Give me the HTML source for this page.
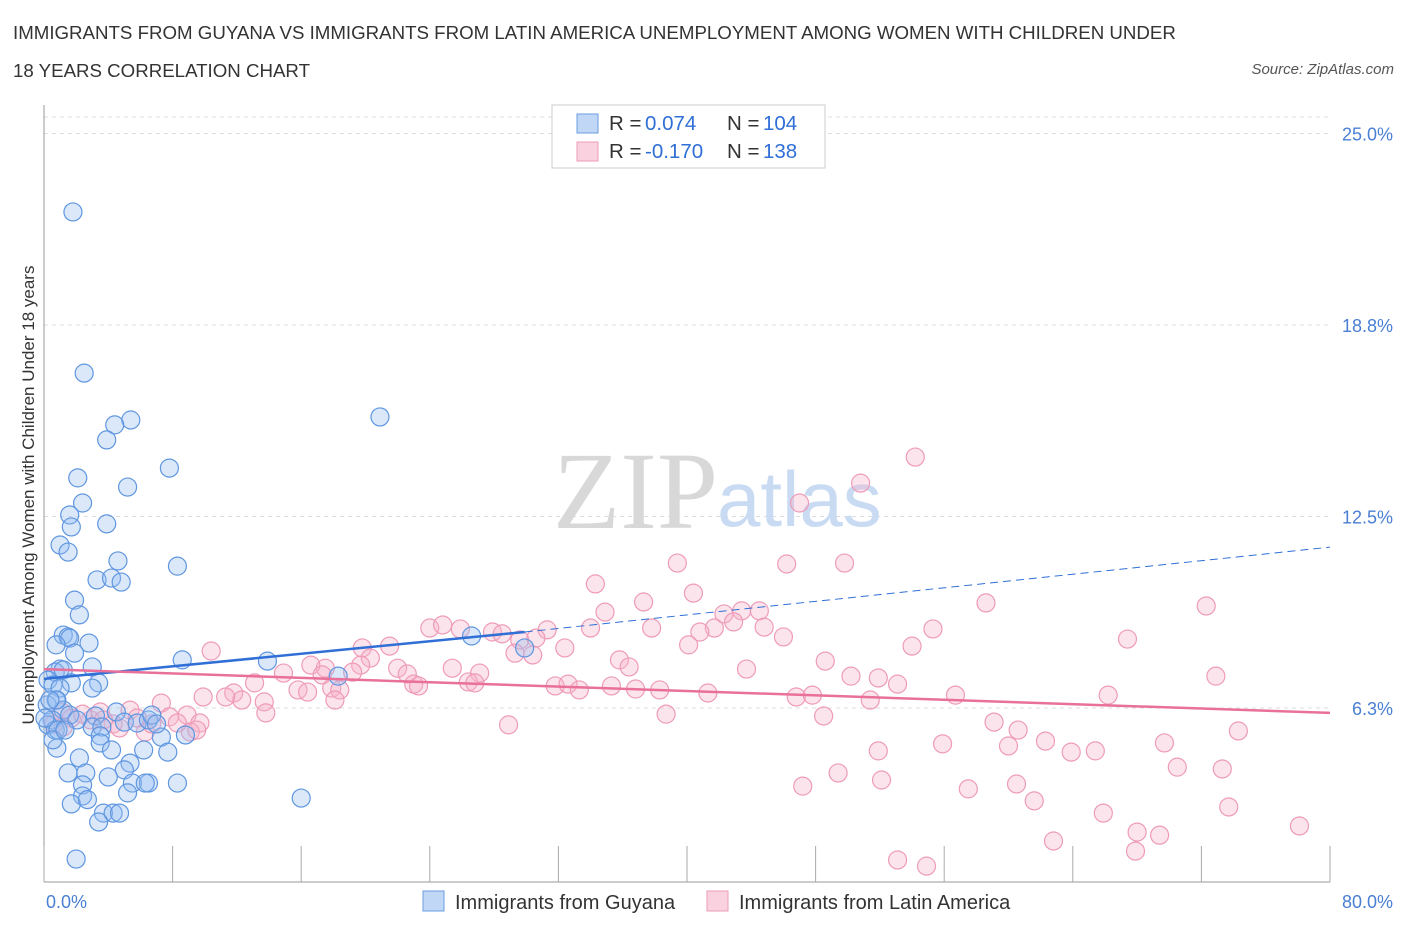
<!DOCTYPE html>
<html><head><meta charset="utf-8">
<style>
body{margin:0;background:#fff;font-family:"Liberation Sans",sans-serif;}
#wrap{position:relative;width:1406px;height:930px;overflow:hidden;}
.title{position:absolute;left:13px;top:14px;font-size:18.7px;color:#333;line-height:38px;white-space:nowrap;}
.src{position:absolute;right:12px;top:61px;font-size:15px;color:#555;font-style:italic;}
</style></head><body>
<div id="wrap">
<div class="title">IMMIGRANTS FROM GUYANA VS IMMIGRANTS FROM LATIN AMERICA UNEMPLOYMENT AMONG WOMEN WITH CHILDREN UNDER<br>18 YEARS CORRELATION CHART</div>
<div class="src">Source: ZipAtlas.com</div>
<svg id="chart" width="1406" height="930" style="position:absolute;left:0;top:0"></svg>
</div>
<script>
const xTicks=[0,80];
const yTicks=[6.25,12.5,18.75,25];
const yTickLabels=["6.3%","12.5%","18.8%","25.0%"];
const guyX=[1.8,2.5,5.4,4.4,3.9,7.8,2.1,5.2,2.4,1.6,1.7,3.9,1.0,1.5,4.6,8.3,3.3,4.2,4.8,1.9,2.2,1.2,1.5,2.8,1.6,1.9,0.75,1.0,0.7,1.2,3.0,1.7,3.4,3.0,0.25,0.56,1.0,13.9,8.6,20.9,26.6,29.9,18.3,0.75,0.2,1.2,0.5,0.25,0.7,0.06,1.6,3.2,4.5,5.0,3.0,2.05,3.6,5.8,6.5,6.7,7.3,7.0,8.8,3.5,0.87,0.8,3.5,4.2,6.2,7.7,2.2,5.35,1.5,2.6,5.0,4.0,5.5,6.5,8.3,2.4,6.3,2.4,5.2,1.7,2.7,3.7,4.3,4.7,3.4,2.0,16.0,0.8,0.37,0.56,1.3];
const guyY=[22.44,17.18,15.65,15.49,15.0,14.08,13.76,13.46,12.94,12.55,12.16,12.26,11.57,11.34,11.05,10.88,10.43,10.49,10.36,9.77,9.29,8.63,8.57,8.37,8.53,8.04,8.31,7.52,7.42,7.49,7.59,7.07,7.07,6.9,7.16,7.0,6.9,7.78,7.82,15.75,8.6,8.21,7.29,6.51,6.35,6.18,5.86,5.7,5.53,5.92,6.02,5.99,6.12,5.79,5.63,5.86,5.63,5.76,5.86,6.02,5.3,5.73,5.37,5.34,5.53,4.94,5.11,4.88,4.88,4.81,4.62,4.45,4.13,4.13,4.23,4.0,3.8,3.8,3.8,3.74,3.8,3.38,3.48,3.12,3.26,2.82,2.82,2.82,2.53,1.32,3.31,6.51,6.51,5.21,5.53];
const latX=[54.2,50.8,47.0,39.4,46.2,49.8,34.3,37.3,40.4,58.6,72.3,34.9,42.3,43.4,44.5,42.9,41.7,44.8,46.0,55.3,40.8,37.8,34.0,31.3,24.0,24.8,25.9,27.9,28.5,29.6,30.6,29.3,30.4,32.4,40.1,67.4,54.0,21.5,19.8,20.3,10.4,35.8,36.4,43.7,48.6,25.4,27.1,22.0,22.6,23.0,19.7,19.2,17.5,16.6,17.3,14.9,13.1,72.9,50.2,51.9,26.4,26.8,31.8,32.6,33.3,35.3,36.8,38.3,41.3,46.8,47.8,23.3,17.9,18.4,15.8,16.4,11.8,12.3,11.3,13.7,9.9,66.2,56.7,53.1,51.4,7.3,5.35,7.8,8.9,9.7,9.1,6.3,13.8,18.1,38.7,48.5,59.1,60.6,55.9,60.0,62.3,63.9,65.4,69.7,74.3,28.9,51.9,70.5,73.3,49.4,52.1,47.2,60.5,57.5,61.6,73.7,65.9,68.0,69.4,62.8,67.9,78.1,53.1,54.9,1.1,1.7,2.9,4.3,5.8,4.7,6.7,8.3,3.5,2.4,9.5,0.6,1.2,3.7];
const latY=[14.44,13.59,12.94,10.98,10.95,10.98,10.3,9.71,10.0,9.68,9.58,9.38,9.32,9.42,9.42,9.06,8.86,8.89,8.57,8.83,8.73,8.86,8.86,8.8,8.86,8.96,8.83,8.73,8.67,8.47,8.53,8.04,7.98,8.21,8.31,8.5,8.27,8.27,8.21,7.88,8.11,7.82,7.59,7.52,7.78,7.55,7.39,7.55,7.36,7.03,7.65,7.42,7.55,7.65,7.33,7.39,7.07,7.29,7.29,7.23,7.1,7.07,6.97,7.03,6.84,6.97,6.87,6.84,6.74,6.61,6.67,6.97,6.9,6.84,6.84,6.77,6.74,6.51,6.61,6.45,6.61,6.67,6.67,7.03,6.51,6.41,6.18,5.96,6.02,5.76,5.47,5.47,6.09,6.51,6.05,5.99,5.79,5.53,5.08,5.01,5.17,4.81,4.85,5.11,5.5,5.7,4.85,4.32,4.26,4.13,3.9,3.7,3.77,3.61,3.22,3.02,2.82,2.2,2.1,1.91,1.58,2.4,1.29,1.09,6.12,5.92,5.86,5.73,5.92,5.6,5.73,5.76,6.12,6.05,5.53,5.73,5.63,5.86];
const guyTrend=[[0,7.2],[29.9,8.73],[80,11.5]];
const latTrend=[[0,7.52],[80,6.09]];

const NS="http://www.w3.org/2000/svg";
const svg=document.getElementById('chart');
const X0=44,X1=1330,Y0=899.5,YS=30.64;
const xs=v=>X0+(X1-X0)*v/80;
const ys=v=>Y0-v*YS;
function mk(t,a,p){const e=document.createElementNS(NS,t);for(const k in a)e.setAttribute(k,a[k]);(p||svg).appendChild(e);return e;}

yTicks.forEach((v,i)=>{
  const g=mk('line',{x1:X0,x2:X1,y1:ys(v),y2:ys(v),stroke:'#ddd','stroke-dasharray':'4,4'});
  
  
  const t=mk('text',{x:1393,y:ys(v)+7,'text-anchor':'end','font-size':18,fill:'#4a7fd4','font-family':'Liberation Sans, sans-serif'});
  t.textContent=yTickLabels[i];
  
  
});
const topG=mk('line',{x1:X0,x2:X1,y1:117,y2:117,stroke:'#ddd','stroke-dasharray':'4,4'});


const ya=mk('line',{x1:X0,x2:X0,y1:105,y2:882,stroke:'#999'});


const xa=mk('line',{x1:X0,x2:X1,y1:882,y2:882,stroke:'#999'});


for(let i=0;i<=10;i++){
  const tk=mk('line',{x1:xs(i*8),x2:xs(i*8),y1:846,y2:882,stroke:'#aaa'});
  
  
}
xTicks.forEach((v,i)=>{
  const t=mk('text',{x:i==0?46:1393,y:908,'text-anchor':i==0?'start':'end','font-size':18,fill:'#4a7fd4','font-family':'Liberation Sans, sans-serif'});
  t.textContent=v.toFixed(1)+'%';
  
  
});
const yt=mk('text',{x:0,y:0,transform:'translate(34,495) rotate(-90)','text-anchor':'middle','font-size':17,fill:'#333','font-family':'Liberation Sans, sans-serif'});
yt.textContent='Unemployment Among Women with Children Under 18 years';


const wm=mk('text',{x:553,y:528,'font-size':110,fill:'#d8d8d8','font-family':'Liberation Serif, serif'});
wm.textContent='ZIP';


const wm2=mk('text',{x:717,y:526,'font-size':78,fill:'#c9dbf3','font-family':'Liberation Sans, sans-serif'});
wm2.textContent='atlas';


latX.forEach((v,i)=>{
  const c=mk('circle',{cx:xs(v),cy:ys(latY[i]),r:9,fill:'rgba(246,178,200,0.35)',stroke:'#ee9bb8','stroke-width':1.2});
  
  
});
guyX.forEach((v,i)=>{
  const c=mk('circle',{cx:xs(v),cy:ys(guyY[i]),r:9,fill:'rgba(150,190,240,0.35)',stroke:'#5f96e0','stroke-width':1.2});
  
  
});
const l1=mk('line',{x1:xs(guyTrend[0][0]),y1:ys(guyTrend[0][1]),x2:xs(guyTrend[1][0]),y2:ys(guyTrend[1][1]),stroke:'#2f6fd6','stroke-width':2.5});


const l2=mk('line',{x1:xs(guyTrend[1][0]),y1:ys(guyTrend[1][1]),x2:xs(guyTrend[2][0]),y2:ys(guyTrend[2][1]),stroke:'#2f6fd6','stroke-width':1,'stroke-dasharray':'8,5'});


const l3=mk('line',{x1:xs(latTrend[0][0]),y1:ys(latTrend[0][1]),x2:xs(latTrend[1][0]),y2:ys(latTrend[1][1]),stroke:'#e8709a','stroke-width':2.5});


const lg=mk('rect',{x:552,y:105,width:273,height:63,fill:'#fff',stroke:'#ccc'});


[[0,'rgba(150,190,240,0.6)','#6a9de0','0.074','104'],[1,'rgba(246,178,200,0.6)','#ee9bb8','-0.170','138']].forEach(r=>{
  const y=123+r[0]*28;
  const s=mk('rect',{x:577,y:y-9,width:21,height:19,fill:r[1],stroke:r[2]});
  
  
  const t=mk('text',{x:609,y:y+7,'font-size':20.5,fill:'#333','font-family':'Liberation Sans, sans-serif'});
  t.innerHTML='R = <tspan x="645" fill="#2f6fd6">'+r[3]+'</tspan><tspan x="727" fill="#333">N =</tspan><tspan x="763" fill="#2f6fd6">'+r[4]+'</tspan>';
  
  
});
[[423,'rgba(150,190,240,0.6)','#6a9de0','Immigrants from Guyana',455],[707,'rgba(246,178,200,0.6)','#ee9bb8','Immigrants from Latin America',739]].forEach(r=>{
  const s=mk('rect',{x:r[0],y:891,width:21,height:20,fill:r[1],stroke:r[2]});
  
  
  const t=mk('text',{x:r[4],y:909,'font-size':20,fill:'#333','font-family':'Liberation Sans, sans-serif'});
  t.textContent=r[3];
  
  
});
</script>
</body></html>
